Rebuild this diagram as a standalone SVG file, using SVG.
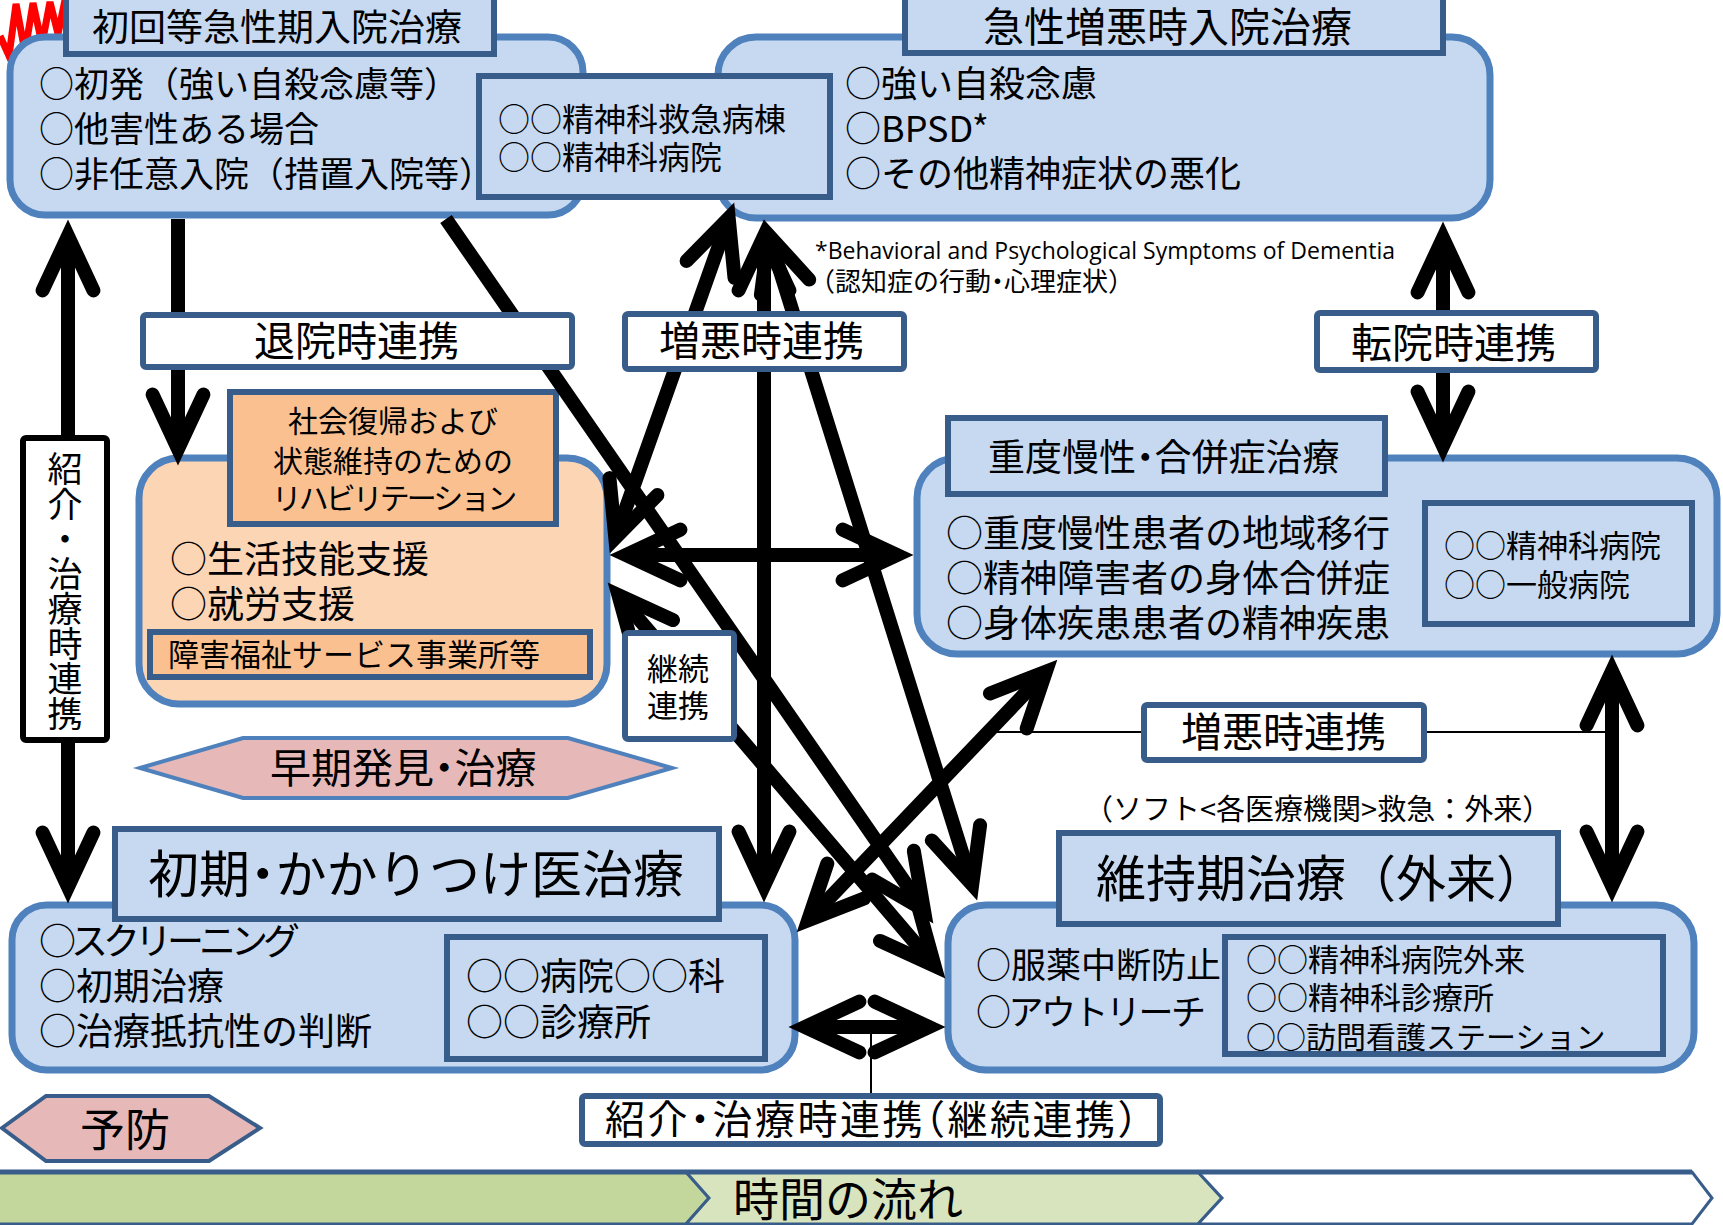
<svg xmlns="http://www.w3.org/2000/svg" width="1723" height="1225" viewBox="0 0 1723 1225">
<style>
.rb{fill:#c6d9f1;stroke:#4f81bd;stroke-width:7}
.rc{fill:#fcd5b5;stroke:#4f81bd;stroke-width:7}
.tb{fill:#c6d9f1;stroke:#385d8a;stroke-width:6}
.ob{fill:#fac090;stroke:#385d8a;stroke-width:6}
.lb{fill:#ffffff;stroke:#385d8a;stroke-width:6}
.t{font-family:"Noto Sans CJK JP","Noto Sans CJK SC",sans-serif;fill:#000}
.hw{font-feature-settings:"halt" 1}
.e{font-family:"Open Sans","Liberation Sans",sans-serif;fill:#000}
.s{fill:none;stroke:#000;stroke-width:14;stroke-linecap:butt}
.h{fill:none;stroke:#000;stroke-width:14;stroke-linecap:round;stroke-linejoin:miter;stroke-miterlimit:6}
.thin{fill:none;stroke:#000;stroke-width:2}
</style>
<rect width="1723" height="1225" fill="#ffffff"/>

<g id="timeline">
<polygon points="-5,1172 686,1172 709,1198 686,1224 -5,1224" fill="#c3d69b" stroke="#385d8a" stroke-width="3"/>
<polygon points="686,1172 1198,1172 1222,1198 1198,1224 686,1224 709,1198" fill="#d7e4bd" stroke="#385d8a" stroke-width="3"/>
<polygon points="1198,1172 1692,1172 1712,1198 1692,1224 1198,1224 1222,1198" fill="#ffffff" stroke="#385d8a" stroke-width="3"/>
<line x1="0" y1="1172" x2="1692" y2="1172" stroke="#385d8a" stroke-width="5"/>
<text class="t" x="733" y="1216" font-size="46">時間の流れ</text>
</g>

<g id="mark">
<polyline points="0,36 9,56 16,4 25,52 33,3 42,44 50,2 58,34 65,0" fill="none" stroke="#ff0000" stroke-width="7"/>
</g>

<g id="prevention">
<polygon points="2,1128 46,1096 209,1096 260,1128 209,1161 46,1161" fill="#e6b9b8" stroke="#385d8a" stroke-width="4"/>
<text class="t" x="80" y="1147" font-size="45">予防</text>
</g>

<g id="early">
<polygon points="140,768 243,738 568,738 672,768 568,798 243,798" fill="#e6b9b8" stroke="#4f81bd" stroke-width="4"/>
<text class="t hw" x="270" y="783" font-size="41">早期発見・治療</text>
</g>

<g id="acute-first">
<rect class="rb" x="10" y="37" width="573" height="178" rx="35"/>
<rect class="tb" x="66" y="-3" width="428" height="57"/>
<text class="t" x="92" y="41" font-size="37">初回等急性期入院治療</text>
<text class="t" x="39" y="97" font-size="35">○初発（強い自殺念慮等）</text>
<text class="t" x="39" y="142" font-size="35">○他害性ある場合</text>
<text class="t" x="39" y="187" font-size="35">○非任意入院（措置入院等）</text>
</g>

<g id="acute-worse">
<rect class="rb" x="718" y="37" width="772" height="181" rx="38"/>
<rect class="tb" x="905" y="-3" width="538" height="56"/>
<text class="t" x="983" y="42" font-size="41">急性増悪時入院治療</text>
<text class="t" x="845" y="97" font-size="36">○強い自殺念慮</text>
<text class="t" x="845" y="142" font-size="36">○BPSD*</text>
<text class="t" x="845" y="187" font-size="36">○その他精神症状の悪化</text>
</g>

<g id="emergency-ward">
<rect class="tb" x="479" y="76" width="351" height="121"/>
<text class="t" x="498" y="131" font-size="32">○○精神科救急病棟</text>
<text class="t" x="498" y="169" font-size="32">○○精神科病院</text>
</g>

<g id="footnote">
<text class="e" x="815" y="259" font-size="23" textLength="580" lengthAdjust="spacingAndGlyphs">*Behavioral and Psychological Symptoms of Dementia</text>
<text class="t hw" x="822" y="291" font-size="26">（認知症の行動・心理症状）</text>
</g>

<g id="rehab">
<rect class="rc" x="139" y="458" width="468" height="246" rx="40"/>
<rect class="ob" x="230" y="392" width="326" height="132"/>
<text class="t" x="393" y="432" font-size="30" text-anchor="middle">社会復帰および</text>
<text class="t" x="393" y="472" font-size="30" text-anchor="middle">状態維持のための</text>
<text class="t" x="393" y="509" font-size="30" text-anchor="middle" letter-spacing="-3">リハビリテーション</text>
<text class="t" x="170" y="573" font-size="37">○生活技能支援</text>
<text class="t" x="170" y="618" font-size="37">○就労支援</text>
<rect class="ob" x="150" y="632" width="440" height="45"/>
<text class="t" x="168" y="666" font-size="31">障害福祉サービス事業所等</text>
</g>

<g id="severe">
<rect class="rb" x="917" y="458" width="800" height="196" rx="40"/>
<rect class="tb" x="948" y="418" width="437" height="76"/>
<text class="t hw" x="988" y="471" font-size="37">重度慢性・合併症治療</text>
<text class="t" x="946" y="547" font-size="37">○重度慢性患者の地域移行</text>
<text class="t" x="946" y="592" font-size="37">○精神障害者の身体合併症</text>
<text class="t" x="946" y="637" font-size="37">○身体疾患患者の精神疾患</text>
<rect class="tb" x="1425" y="503" width="267" height="121"/>
<text class="t" x="1444" y="557" font-size="31">○○精神科病院</text>
<text class="t" x="1444" y="596" font-size="31">○○一般病院</text>
</g>

<g id="primary">
<rect class="rb" x="12" y="905" width="783" height="165" rx="35"/>
<rect class="tb" x="115" y="829" width="604" height="90"/>
<text class="t hw" x="148" y="893" font-size="51">初期・かかりつけ医治療</text>
<text class="t" x="39" y="955" font-size="37" letter-spacing="-5">○スクリーニング</text>
<text class="t" x="39" y="1000" font-size="37">○初期治療</text>
<text class="t" x="39" y="1045" font-size="37">○治療抵抗性の判断</text>
<rect class="tb" x="447" y="937" width="318" height="122"/>
<text class="t" x="466" y="990" font-size="37">○○病院○○科</text>
<text class="t" x="466" y="1036" font-size="37">○○診療所</text>
</g>

<g id="maintenance">
<rect class="rb" x="948" y="905" width="746" height="165" rx="38"/>
<rect class="tb" x="1059" y="833" width="499" height="91"/>
<text class="t" x="1096" y="897" font-size="50">維持期治療（外来）</text>
<text class="t" x="976" y="978" font-size="35">○服薬中断防止</text>
<text class="t" x="976" y="1025" font-size="35" letter-spacing="-2.5">○アウトリーチ</text>
<rect class="tb" x="1225" y="937" width="438" height="117"/>
<text class="t" x="1246" y="971" font-size="31">○○精神科病院外来</text>
<text class="t" x="1246" y="1009" font-size="31">○○精神科診療所</text>
<text class="t" x="1246" y="1048" font-size="30">○○訪問看護ステーション</text>
<text class="t" x="1084" y="820" font-size="29">（ソフト&lt;各医療機関&gt;救急：外来）</text>
</g>

<g id="connectors">
<path class="thin" d="M997,732 H1606 M871,1027 V1096"/>
<path class="s" d="M68,236 V887 M178,219 V449 M446,219 L923.9,909.8 M728.7,218.1 L615.3,537.9 M764,236 V886 M768.8,235.3 L972.2,884.7 M626,555 H897 M618.4,595.2 L934.6,965.8 M1045.9,671.6 L808.1,920.4 M805,1027 H929 M1612,671 V886 M1443,238 V446"/>
<path class="h" d="M42.6,290.4 L68,236 L93.4,290.4 M42.6,832.6 L68,887 L93.4,832.6"/>
<path class="h" d="M152.6,394.6 L178,449 L203.4,394.6"/>
<path class="h" d="M913.8,850.7 L923.9,909.8 L872.1,879.6"/>
<path class="h" d="M686.6,260.9 L728.7,218.1 L734.5,277.8 M657.4,495.1 L615.3,537.9 L609.5,478.1"/>
<path class="h" d="M738.6,290.4 L764,236 L789.4,290.4 M738.6,831.6 L764,886 L789.4,831.6"/>
<path class="h" d="M760.9,294.8 L768.8,235.3 L809.2,279.6 M980.1,825.2 L972.2,884.7 L931.8,840.4"/>
<path class="h" d="M680.4,529.6 L626,555 L680.4,580.4 M842.6,529.6 L897,555 L842.6,580.4"/>
<path class="h" d="M918.6,908 L934.6,965.8 L880,940.9 M634.4,653 L618.4,595.2 L673,620.1"/>
<path class="h" d="M990,693.4 L1045.9,671.6 L1026.7,728.4 M864,898.6 L808.1,920.4 L827.3,863.6"/>
<path class="h" d="M859.4,1001.6 L805,1027 L859.4,1052.4 M874.6,1001.6 L929,1027 L874.6,1052.4"/>
<path class="h" d="M1586.6,725.4 L1612,671 L1637.4,725.4 M1586.6,831.6 L1612,886 L1637.4,831.6"/>
<path class="h" d="M1417.6,292.4 L1443,238 L1468.4,292.4 M1417.6,391.6 L1443,446 L1468.4,391.6"/>
</g>

<g id="label-discharge">
<rect class="lb" x="143" y="315" width="429" height="52" rx="3"/>
<text class="t" x="254" y="356" font-size="41">退院時連携</text>
</g>
<g id="label-worse-top">
<rect class="lb" x="625" y="314" width="279" height="55" rx="3"/>
<text class="t" x="659" y="356" font-size="41">増悪時連携</text>
</g>
<g id="label-transfer">
<rect class="lb" x="1317" y="313" width="279" height="57" rx="3"/>
<text class="t" x="1351" y="358" font-size="41">転院時連携</text>
</g>
<g id="label-referral-vertical">
<rect x="23" y="438" width="84" height="302" rx="3" fill="#ffffff" stroke="#000" stroke-width="6"/>
<text class="t" x="65" y="451" font-size="35" writing-mode="vertical-rl">紹介・治療時連携</text>
</g>
<g id="label-continue">
<rect class="lb" x="625" y="633" width="109" height="106" rx="3"/>
<text class="t" x="647" y="680" font-size="31">継続</text>
<text class="t" x="647" y="717" font-size="31">連携</text>
</g>
<g id="label-worse-mid">
<rect class="lb" x="1144" y="705" width="280" height="55" rx="3"/>
<text class="t" x="1181" y="747" font-size="41">増悪時連携</text>
</g>
<g id="label-referral-bottom">
<rect class="lb" x="582" y="1096" width="578" height="48" rx="3"/>
<text class="t hw" x="605" y="1134" font-size="40" letter-spacing="2.5">紹介・治療時連携（継続連携）</text>
</g>
</svg>
